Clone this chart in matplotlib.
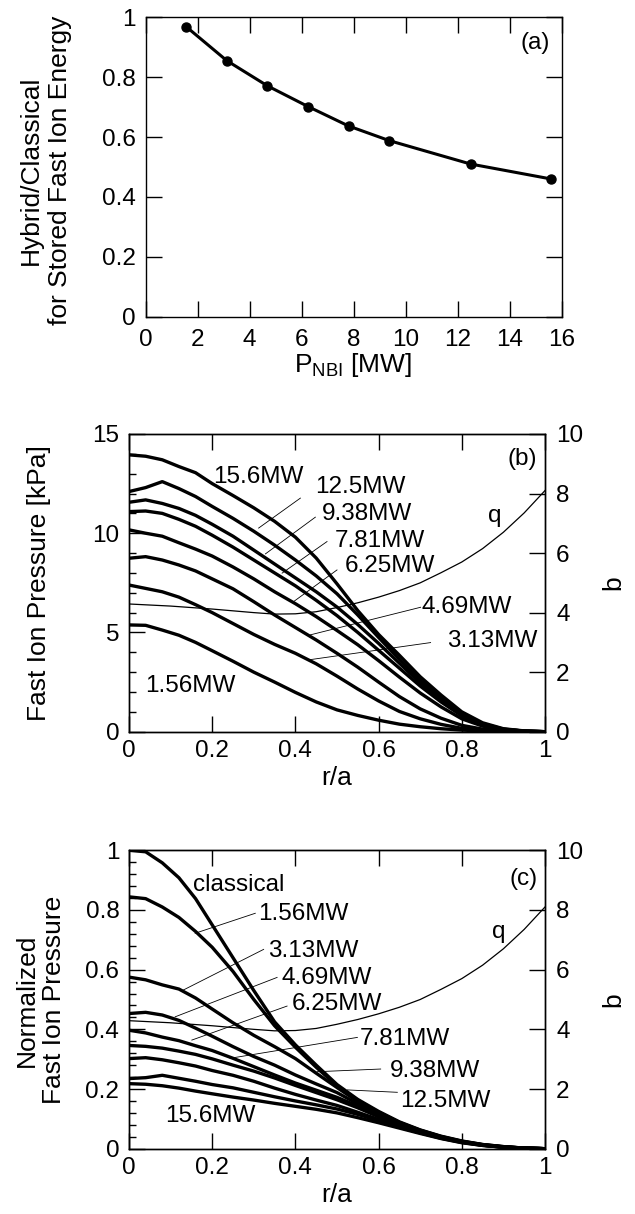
import matplotlib
matplotlib.use("Agg")
import matplotlib.pyplot as plt
from matplotlib.ticker import MultipleLocator

plt.rcParams['font.family'] = ['Liberation Sans', 'DejaVu Sans']
plt.rcParams['mathtext.fontset'] = 'custom'
plt.rcParams['mathtext.rm'] = 'Liberation Sans'
plt.rcParams['mathtext.it'] = 'Liberation Sans:italic'

# ---------------- data ----------------
# panel (a)
p_nbi = [1.56, 3.13, 4.69, 6.25, 7.81, 9.38, 12.5, 15.6]
energy_ratio = [0.969, 0.855, 0.771, 0.702, 0.637, 0.588, 0.510, 0.460]

# radial grid (r/a)
r_grid = [0, 0.04, 0.08, 0.12, 0.16, 0.2, 0.25, 0.3, 0.35, 0.4, 0.45, 0.5,
          0.55, 0.6, 0.65, 0.7, 0.75, 0.8, 0.85, 0.9, 0.95, 1.0]

# panel (b): fast ion pressure [kPa]
pb_156 = [5.38, 5.36, 5.12, 4.86, 4.50, 4.08, 3.55, 3.00, 2.50, 1.98, 1.50, 1.10,
          0.82, 0.58, 0.38, 0.25, 0.15, 0.08, 0.04, 0.015, 0.003, 0.0]
pb_313 = [7.39, 7.22, 7.05, 6.78, 6.40, 6.00, 5.45, 4.90, 4.40, 3.95, 3.42, 2.80,
          2.15, 1.55, 1.02, 0.65, 0.37, 0.17, 0.07, 0.02, 0.005, 0.0]
pb_469 = [8.74, 8.82, 8.65, 8.40, 8.10, 7.70, 7.20, 6.55, 5.88, 5.25, 4.62, 3.95,
          3.25, 2.50, 1.77, 1.15, 0.68, 0.32, 0.13, 0.04, 0.01, 0.0]
pb_625 = [10.17, 10.00, 9.85, 9.52, 9.20, 8.85, 8.30, 7.70, 7.05, 6.45, 5.80, 5.10,
          4.38, 3.58, 2.75, 1.95, 1.25, 0.65, 0.28, 0.09, 0.02, 0.0]
pb_781 = [11.09, 11.12, 11.00, 10.70, 10.35, 9.90, 9.30, 8.65, 8.00, 7.35, 6.62, 5.85,
          5.00, 4.10, 3.20, 2.30, 1.50, 0.80, 0.35, 0.11, 0.03, 0.0]
pb_938 = [11.56, 11.68, 11.50, 11.25, 10.90, 10.45, 9.85, 9.15, 8.45, 7.75, 7.05, 6.28,
          5.40, 4.45, 3.45, 2.45, 1.60, 0.85, 0.37, 0.12, 0.03, 0.0]
pb_125 = [12.10, 12.30, 12.60, 12.25, 11.85, 11.35, 10.75, 10.10, 9.40, 8.65, 7.85, 6.95,
          5.88, 4.75, 3.65, 2.60, 1.70, 0.90, 0.40, 0.13, 0.03, 0.0]
pb_156w = [13.95, 13.88, 13.70, 13.36, 13.05, 12.50, 11.90, 11.28, 10.60, 9.80, 8.75, 7.45,
           6.10, 4.90, 3.85, 2.77, 1.85, 1.00, 0.45, 0.15, 0.04, 0.0]

# safety factor q (right axis)
r_q = [0, 0.1, 0.2, 0.3, 0.35, 0.4, 0.45, 0.5, 0.55, 0.6, 0.65, 0.7, 0.75, 0.8,
       0.85, 0.9, 0.95, 1.0]
q_prof = [4.29, 4.22, 4.12, 4.00, 3.95, 3.96, 4.03, 4.17, 4.33, 4.52, 4.74, 5.00,
          5.34, 5.70, 6.15, 6.70, 7.35, 8.10]

# panel (c): normalized fast ion pressure
pc_cls = [1.0, 0.995, 0.958, 0.908, 0.838, 0.750, 0.640, 0.530, 0.425, 0.348, 0.280, 0.215,
          0.165, 0.125, 0.090, 0.063, 0.042, 0.026, 0.014, 0.007, 0.002, 0.0]
pc_156 = [0.844, 0.838, 0.810, 0.775, 0.728, 0.675, 0.594, 0.500, 0.412, 0.340, 0.273, 0.211,
          0.162, 0.122, 0.088, 0.062, 0.041, 0.025, 0.014, 0.007, 0.002, 0.0]
pc_313 = [0.575, 0.566, 0.549, 0.535, 0.505, 0.468, 0.422, 0.380, 0.342, 0.302, 0.253, 0.205,
          0.158, 0.120, 0.087, 0.061, 0.040, 0.024, 0.013, 0.006, 0.002, 0.0]
pc_469 = [0.453, 0.457, 0.448, 0.430, 0.404, 0.377, 0.342, 0.309, 0.280, 0.247, 0.217, 0.188,
          0.150, 0.115, 0.085, 0.060, 0.039, 0.024, 0.013, 0.006, 0.002, 0.0]
pc_625 = [0.397, 0.388, 0.374, 0.362, 0.345, 0.329, 0.303, 0.275, 0.247, 0.220, 0.196, 0.172,
          0.143, 0.110, 0.082, 0.058, 0.038, 0.023, 0.012, 0.006, 0.002, 0.0]
pc_781 = [0.346, 0.343, 0.337, 0.327, 0.316, 0.301, 0.280, 0.260, 0.237, 0.212, 0.188, 0.164,
          0.137, 0.107, 0.080, 0.057, 0.037, 0.023, 0.012, 0.005, 0.0015, 0.0]
pc_938 = [0.302, 0.305, 0.298, 0.288, 0.277, 0.262, 0.246, 0.226, 0.203, 0.182, 0.163, 0.145,
          0.122, 0.098, 0.075, 0.054, 0.036, 0.022, 0.012, 0.005, 0.0015, 0.0]
pc_125 = [0.235, 0.238, 0.246, 0.236, 0.226, 0.215, 0.204, 0.189, 0.174, 0.160, 0.147, 0.133,
          0.115, 0.094, 0.072, 0.053, 0.035, 0.021, 0.011, 0.005, 0.0015, 0.0]
pc_156w = [0.218, 0.216, 0.211, 0.203, 0.193, 0.184, 0.173, 0.163, 0.152, 0.142, 0.132, 0.120,
           0.104, 0.087, 0.069, 0.051, 0.034, 0.020, 0.011, 0.005, 0.0015, 0.0]

# ---------------- figure ----------------
W, H = 635, 1214
fig = plt.figure(figsize=(W / 100, H / 100), dpi=100)

TICK_FS = 17.5
LAB_FS = 19
TXT_FS = 17.5
THICK = 2.4


def px_axes(x0, x1, y0, y1):
    return fig.add_axes([x0 / W, 1 - y1 / H, (x1 - x0) / W, (y1 - y0) / H])


def style(ax, right=True, xpad=6):
    for s in ax.spines.values():
        s.set_linewidth(1.0)
    ax.tick_params(which='major', direction='in', length=11.5, width=1.0,
                   top=True, right=right, labelsize=TICK_FS, pad=7)
    ax.tick_params(which='minor', direction='in', length=5, width=1.0)
    ax.tick_params(axis='x', pad=xpad)


# ---- panel (a) ----
axa = px_axes(145.5, 561.5, 17.3, 316.7)
axa.plot(p_nbi, energy_ratio, '-o', color='black', lw=2.2, ms=6.5)
axa.set_xlim(0, 16)
axa.set_ylim(0, 1)
axa.xaxis.set_major_locator(MultipleLocator(2))
axa.set_yticks([0, 0.2, 0.4, 0.6, 0.8, 1.0])
axa.set_yticklabels(['0', '0.2', '0.4', '0.6', '0.8', '1'])
style(axa, xpad=9)
axa.text(15.0, 0.913, '(a)', ha='center', va='center', fontsize=TXT_FS)
fig.text(45.6 / W, 1 - 170 / H, 'Hybrid/Classical\nfor Stored Fast Ion Energy',
         rotation=90, ha='center', va='center', fontsize=LAB_FS, linespacing=1.3)
axa.set_xlabel('P$_{\\mathrm{NBI}}$ [MW]', fontsize=LAB_FS, labelpad=0)


def fmt_r(ax):
    ax.set_xlim(0, 1)
    ax.set_xticks([0, 0.2, 0.4, 0.6, 0.8, 1.0])
    ax.set_xticklabels(['0', '0.2', '0.4', '0.6', '0.8', '1'])


def right_axis(ax):
    ax2 = ax.twinx()
    ax2.set_ylim(0, 10)
    ax2.yaxis.set_major_locator(MultipleLocator(2))
    ax2.tick_params(direction='in', length=11.5, width=1.0, labelsize=TICK_FS, pad=8)
    for s in ax2.spines.values():
        s.set_linewidth(1.0)
    return ax2


# ---- panel (b) ----
axb = px_axes(129, 545, 434.0, 731.7)
for prof in (pb_156, pb_313, pb_469, pb_625, pb_781, pb_938, pb_125, pb_156w):
    axb.plot(r_grid, prof, color='black', lw=THICK, solid_capstyle='round')
fmt_r(axb)
axb.set_ylim(0, 15)
axb.yaxis.set_major_locator(MultipleLocator(5))
axb.yaxis.set_minor_locator(MultipleLocator(1))
style(axb, right=False)
axb2 = right_axis(axb)
axb2.plot(r_q, q_prof, color='black', lw=0.9)
axb.set_xlabel('r/a', fontsize=LAB_FS, labelpad=3)
fig.text(39.5 / W, 1 - 583 / H, 'Fast Ion Pressure [kPa]', rotation=90,
         ha='center', va='center', fontsize=LAB_FS)
axb.text(1.165, 0.5, 'b', transform=axb.transAxes, rotation=90,
         ha='center', va='center', fontsize=LAB_FS)

b_text = [('15.6MW', 0.203, 12.54), ('12.5MW', 0.447, 12.02), ('9.38MW', 0.463, 10.68),
          ('7.81MW', 0.495, 9.33), ('6.25MW', 0.519, 8.07), ('4.69MW', 0.704, 5.97),
          ('3.13MW', 0.764, 4.29), ('1.56MW', 0.0385, 2.02)]
for s, x, y in b_text:
    axb.text(x, y, s, ha='left', va='baseline', fontsize=TXT_FS)
b_lead = [((0.412, 11.77), (0.3116, 10.26)), ((0.448, 10.81), (0.328, 8.96)),
          ((0.476, 9.58), (0.368, 7.99)), ((0.500, 8.15), (0.396, 6.56)),
          ((0.701, 6.27), (0.436, 4.88)), ((0.725, 4.49), (0.432, 3.62))]
for (x1, y1), (x2, y2) in b_lead:
    axb.plot([x1, x2], [y1, y2], color='black', lw=0.6)
axb.text(0.862, 10.57, 'q', ha='left', va='baseline', fontsize=TXT_FS)
axb.text(0.946, 13.75, '(b)', ha='center', va='center', fontsize=TXT_FS)

# ---- panel (c) ----
axc = px_axes(129, 545, 850.3, 1148.7)
for prof in (pc_cls, pc_156, pc_313, pc_469, pc_625, pc_781, pc_938, pc_125, pc_156w):
    axc.plot(r_grid, prof, color='black', lw=THICK, solid_capstyle='round')
fmt_r(axc)
axc.set_ylim(0, 1)
axc.set_yticks([0, 0.2, 0.4, 0.6, 0.8, 1.0])
axc.set_yticklabels(['0', '0.2', '0.4', '0.6', '0.8', '1'])
axc.yaxis.set_minor_locator(MultipleLocator(0.04))
style(axc, right=False)
axc2 = right_axis(axc)
axc2.plot(r_q, q_prof, color='black', lw=0.9)
axc.set_xlabel('r/a', fontsize=LAB_FS, labelpad=3)
fig.text(40.6 / W, 1 - 1000 / H, 'Normalized\nFast Ion Pressure', rotation=90,
         ha='center', va='center', fontsize=LAB_FS, linespacing=1.2)
axc.text(1.165, 0.5, 'b', transform=axc.transAxes, rotation=90,
         ha='center', va='center', fontsize=LAB_FS)

c_text = [('classical', 0.1546, 0.865), ('1.56MW', 0.311, 0.766), ('3.13MW', 0.335, 0.641),
          ('4.69MW', 0.367, 0.552), ('6.25MW', 0.391, 0.465), ('7.81MW', 0.555, 0.348),
          ('9.38MW', 0.627, 0.241), ('12.5MW', 0.651, 0.141), ('15.6MW', 0.0865, 0.0895)]
for s, x, y in c_text:
    axc.text(x, y, s, ha='left', va='baseline', fontsize=TXT_FS)
c_lead = [((0.3036, 0.789), (0.159, 0.722)), ((0.3237, 0.668), (0.131, 0.532)),
          ((0.356, 0.574), (0.111, 0.442)), ((0.380, 0.478), (0.151, 0.364)),
          ((0.549, 0.373), (0.243, 0.303)), ((0.605, 0.267), (0.452, 0.258)),
          ((0.645, 0.189), (0.525, 0.197))]
for (x1, y1), (x2, y2) in c_lead:
    axc.plot([x1, x2], [y1, y2], color='black', lw=0.6)
axc.text(0.872, 0.705, 'q', ha='left', va='baseline', fontsize=TXT_FS)
axc.text(0.948, 0.905, '(c)', ha='center', va='center', fontsize=TXT_FS)

fig.savefig('out.png', dpi=100)
